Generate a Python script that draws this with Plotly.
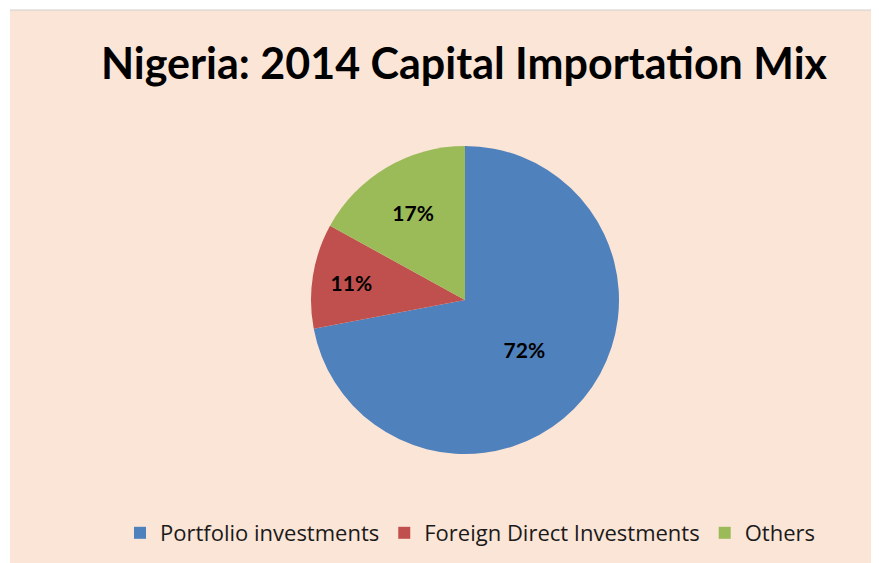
import plotly.graph_objects as go

labels = ["Portfolio investments", "Foreign Direct Investments", "Others"]
values = [72, 11, 17]
colors = ["#4F81BD", "#C0504D", "#9BBB59"]

W, H = 879, 563
OFF = 8  # page body margin
def fx(px): return (px - OFF) / W
def fy(py): return 1 - (py - OFF) / H

fig = go.Figure()
fig.add_trace(go.Pie(
    labels=labels, values=values, sort=False, direction="clockwise", rotation=0,
    marker=dict(colors=colors, line=dict(width=0)),
    texttemplate="%{percent:.0%}", textposition="inside",
    insidetextorientation="horizontal",
    insidetextfont=dict(family="Lato", size=21, color="black", weight="bold"),
    domain=dict(x=[fx(311), fx(619)], y=[fy(454), fy(146)]),
    hoverinfo="label+percent",
))
fig.update_layout(
    width=W, height=H, margin=dict(l=0, r=0, t=0, b=0),
    paper_bgcolor="white",
    title=dict(text="<b>Nigeria: 2014 Capital Importation Mix</b>", x=fx(464), xanchor="center",
               y=fy(64), yanchor="middle",
               font=dict(family="Lato", size=43, color="black")),
    legend=dict(orientation="h", x=fx(470), xanchor="center", y=fy(533), yanchor="middle",
                font=dict(family="Open Sans", size=22, color="#1a1a1a"), bgcolor="rgba(0,0,0,0)",
                itemwidth=30, traceorder="normal"),
    shapes=[
        dict(type="rect", xref="paper", yref="paper", x0=fx(10), x1=1.02, y0=-0.02, y1=fy(10),
             fillcolor="#FBE5D6", line=dict(width=0), layer="below"),
        dict(type="line", xref="paper", yref="paper", x0=fx(10), x1=1.02, y0=fy(10), y1=fy(10),
             line=dict(color="#D0D0D0", width=1), layer="below"),
    ],
)
fig.write_html("out.html")
